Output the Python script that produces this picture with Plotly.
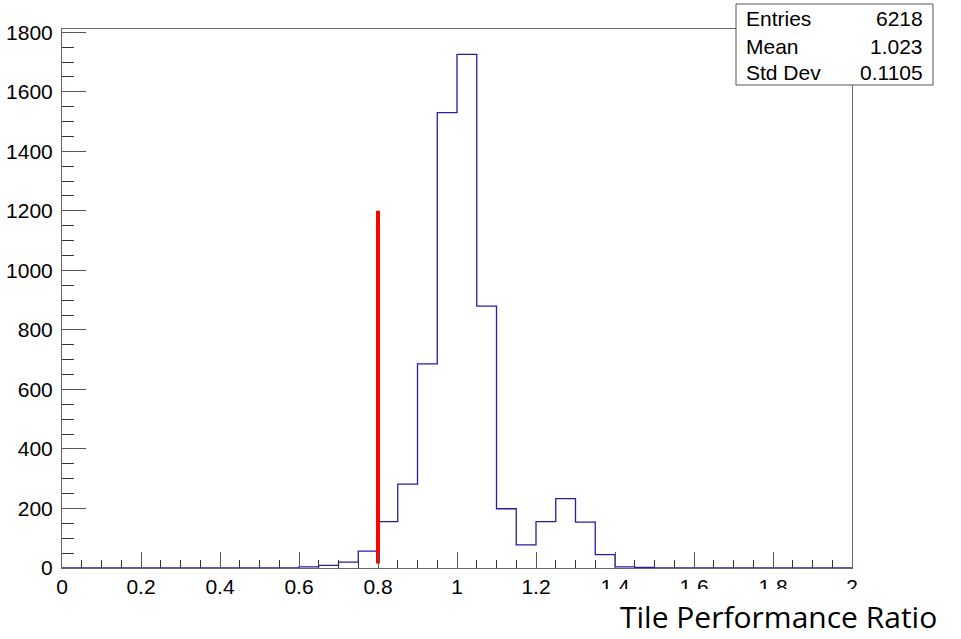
import plotly.graph_objects as go

# ---- data ----
bin_edges_lo = [round(0.05 * i, 2) for i in range(40)]
counts = [0]*12 + [4, 9, 20, 57, 156, 282, 686, 1530, 1726, 880,
                   199, 78, 156, 233, 154, 45, 4, 2] + [0]*10
cut_x = [0.8, 0.8]
cut_y = [15, 1200]
stats_labels = ["Entries", "Mean", "Std Dev"]
stats_values = ["6218", "1.023", "0.1105"]
x_title = "Tile Performance Ratio"

W, H = 961, 639
L, R, T, B = 62, 852, 29, 568

def px(xp):
    return (xp - L) / (R - L)

def py(yp):
    return (B - yp) / (B - T)

step_x = bin_edges_lo + [2.0]
step_y = counts + [counts[-1]]

fig = go.Figure()
fig.add_trace(go.Scatter(x=step_x, y=step_y, mode="lines",
                         line=dict(shape="hv", color="#2a1aa6", width=1.3),
                         hoverinfo="skip", showlegend=False))
fig.add_trace(go.Scatter(x=cut_x, y=cut_y, mode="lines",
                         line=dict(color="#ff0000", width=4),
                         hoverinfo="skip", showlegend=False))

tickfont = dict(family="Liberation Sans, Arial, sans-serif", size=21, color="#000")

fig.update_layout(
    width=W, height=H,
    margin=dict(l=L, r=W - R, t=T, b=H - B, autoexpand=False),
    paper_bgcolor="white", plot_bgcolor="white",
    xaxis=dict(range=[0, 2], tickmode="array",
               tickvals=[0, 0.2, 0.4, 0.6, 0.8, 1, 1.2, 1.4, 1.6, 1.8, 2],
               ticktext=["0", "0.2", "0.4", "0.6", "0.8", "1", "1.2", "1.4", "1.6", "1.8", "2"],
               ticks="inside", ticklen=16, tickcolor="#555", tickwidth=1,
               minor=dict(dtick=0.05, ticks="inside", ticklen=8, tickcolor="#333", tickwidth=1),
               showline=True, linecolor="#666", linewidth=1, mirror=True, automargin=False,
               showgrid=False, zeroline=False, tickfont=tickfont, ticklabelstandoff=0),
    yaxis=dict(range=[0, 1811], tickmode="array",
               tickvals=[0, 200, 400, 600, 800, 1000, 1200, 1400, 1600, 1800],
               ticks="inside", ticklen=24, tickcolor="#555", tickwidth=1,
               minor=dict(dtick=50, ticks="inside", ticklen=12, tickcolor="#333", tickwidth=1),
               showline=True, linecolor="#666", linewidth=1, mirror=True, automargin=False,
               showgrid=False, zeroline=False, tickfont=tickfont, ticklabelstandoff=4),
)

# stats box
fig.add_shape(type="rect", xref="paper", yref="paper",
              x0=px(736), x1=px(933), y0=py(85), y1=py(4),
              line=dict(color="#555", width=1), fillcolor="white", layer="above")
row_y = [19, 46, 73]
for lab, val, yy in zip(stats_labels, stats_values, row_y):
    fig.add_annotation(xref="paper", yref="paper", x=px(744), y=py(yy),
                       text=lab, showarrow=False, xanchor="left", yanchor="middle",
                       font=tickfont)
    fig.add_annotation(xref="paper", yref="paper", x=px(925), y=py(yy),
                       text=val, showarrow=False, xanchor="right", yanchor="middle",
                       font=tickfont)

# x title box (white background clips tick labels as in the reference)
fig.add_shape(type="rect", xref="paper", yref="paper",
              x0=px(598), x1=px(961), y0=py(639), y1=py(589),
              line=dict(width=0), fillcolor="white", layer="above")
fig.add_annotation(xref="paper", yref="paper", x=px(778), y=py(616),
                   text=x_title, showarrow=False, xanchor="center", yanchor="middle",
                   font=dict(family="Open Sans, Noto Sans, sans-serif", size=30, color="#000"))

fig.write_html("out.html", post_script="document.body.style.margin='0';",
               config={"displayModeBar": False})
